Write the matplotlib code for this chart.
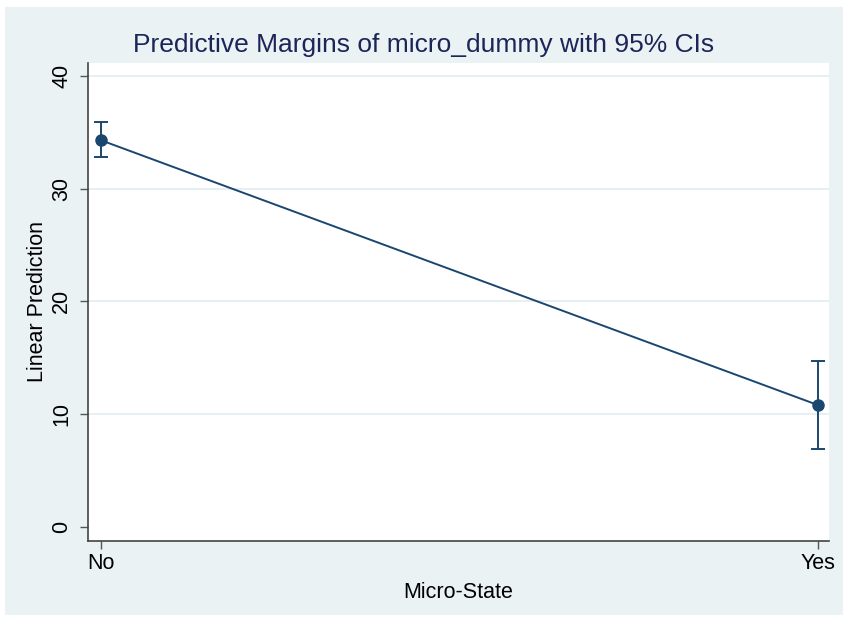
import matplotlib.pyplot as plt
from matplotlib.patches import Rectangle

categories = ["No", "Yes"]
margins = [34.3, 10.8]
ci_low = [32.8, 6.9]
ci_high = [35.9, 14.7]
y_ticks = [0, 10, 20, 30, 40]

plt.rcParams['font.family'] = ['Liberation Sans', 'DejaVu Sans']

bg = '#eaf2f3'
navy = '#1a476f'

fig = plt.figure(figsize=(8.47, 6.2), dpi=100, facecolor='white')
W, H = 847, 620
fig.patches.append(Rectangle((5 / W, 5 / H), 838 / W, 608 / H,
                             transform=fig.transFigure, facecolor=bg,
                             edgecolor='none', zorder=-10))

ax = fig.add_axes([88 / W, (H - 541) / H, 741 / W, 478 / H])
ax.set_facecolor('white')

x = list(range(len(categories)))
ax.set_ylim(-1.25, 41.15)
ax.set_xlim(-0.018, 1.015)

for t in y_ticks[1:]:
    ax.axhline(t, color='#e1ecef', lw=1.2, zorder=1)

ax.plot(x, margins, color=navy, lw=1.4, zorder=3)
err_lo = [m - l for m, l in zip(margins, ci_low)]
err_hi = [h - m for m, h in zip(margins, ci_high)]
ax.errorbar(x, margins, yerr=[err_lo, err_hi], fmt='o', color=navy,
            ms=8, elinewidth=1.4, capsize=4.7, capthick=1.4, zorder=4)

ax.set_xticks(x)
ax.set_xticklabels(categories, fontsize=15.5)
ax.set_yticks(y_ticks)
ax.set_yticklabels([str(t) for t in y_ticks], fontsize=15.5, rotation=90,
                   va='center')
ax.tick_params(axis='both', length=5.5, width=1, color='#555555')
ax.tick_params(axis='y', pad=6)
ax.tick_params(axis='x', pad=3)

for side in ['top', 'right']:
    ax.spines[side].set_visible(False)
for side in ['left', 'bottom']:
    ax.spines[side].set_color('#444444')
    ax.spines[side].set_linewidth(1.2)

ax.set_xlabel('Micro-State', fontsize=15.5, labelpad=6)
ax.set_ylabel('Linear Prediction', fontsize=15.5, labelpad=2)
fig.text(0.5, (H - 45) / H, 'Predictive Margins of micro_dummy with 95% CIs',
         ha='center', va='center', fontsize=19, color='#1c2558')

fig.savefig('out.png', dpi=100, facecolor=fig.get_facecolor())
